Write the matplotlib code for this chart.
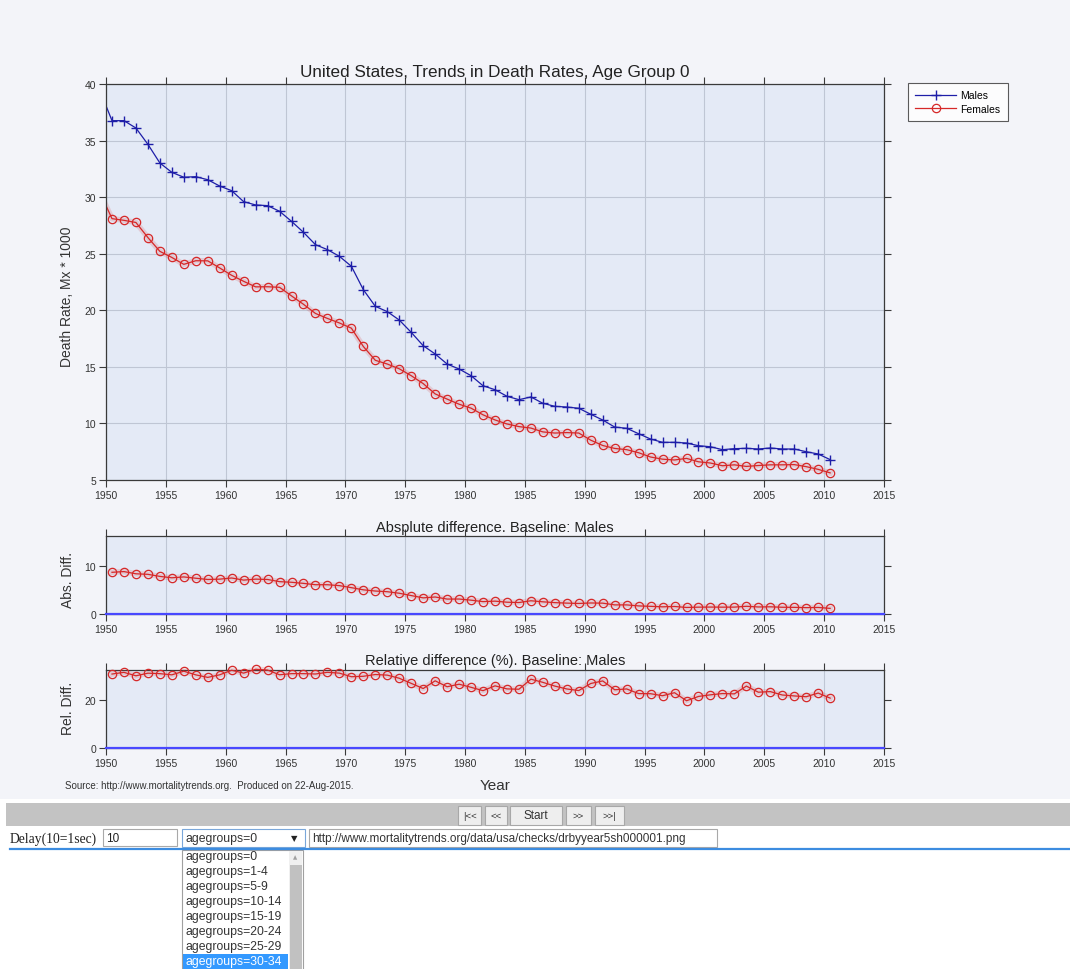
import numpy as np
import matplotlib
matplotlib.use("Agg")
import matplotlib.pyplot as plt
from matplotlib.patches import Rectangle
from matplotlib.lines import Line2D

plt.rcParams['font.family'] = ['Liberation Sans', 'DejaVu Sans']

# ---------------- data ----------------
years = np.arange(1949, 2011)
males = [39.4, 36.76, 36.76, 36.11, 34.67, 33.02, 32.19, 31.76, 31.81, 31.54,
         30.98, 30.57, 29.60, 29.31, 29.25, 28.75, 27.86, 26.89, 25.80, 25.36,
         24.77, 23.89, 21.82, 20.35, 19.88, 19.14, 18.05, 16.87, 16.14, 15.25,
         14.81, 14.22, 13.33, 12.98, 12.40, 12.10, 12.34, 11.78, 11.51, 11.45,
         11.34, 10.81, 10.30, 9.68, 9.57, 9.09, 8.62, 8.33, 8.33, 8.27,
         8.03, 7.94, 7.68, 7.77, 7.80, 7.74, 7.83, 7.74, 7.74, 7.50,
         7.30, 6.80]
females = [30.4, 28.10, 27.95, 27.76, 26.43, 25.21, 24.67, 24.06, 24.38, 24.37,
           23.74, 23.09, 22.56, 22.07, 22.08, 22.03, 21.27, 20.53, 19.72, 19.28,
           18.88, 18.42, 16.80, 15.58, 15.25, 14.83, 14.22, 13.52, 12.61, 12.15,
           11.70, 11.35, 10.76, 10.31, 9.95, 9.72, 9.59, 9.25, 9.15, 9.19,
           9.15, 8.52, 8.05, 7.79, 7.68, 7.41, 7.03, 6.84, 6.77, 6.91,
           6.61, 6.50, 6.26, 6.34, 6.20, 6.28, 6.34, 6.34, 6.36, 6.18,
           5.94, 5.63]
x_ticks = [1950, 1955, 1960, 1965, 1970, 1975, 1980, 1985, 1990, 1995, 2000, 2005, 2010, 2015]
age_options = ["agegroups=0", "agegroups=1-4", "agegroups=5-9", "agegroups=10-14",
               "agegroups=15-19", "agegroups=20-24", "agegroups=25-29", "agegroups=30-34"]
nav_buttons = ["|<<", "<<", "Start", ">>", ">>|"]

m = np.array(males)
f = np.array(females)
xmid = years + 0.5
abs_diff = (m - f)[1:]
rel_diff = ((m - f) / f * 100)[1:]
xd = xmid[1:]

# ---------------- figure ----------------
W, H = 1070, 970
fig = plt.figure(figsize=(W / 100, H / 100), dpi=100)
fig.patch.set_facecolor('white')


def box(x0, y0, x1, y1):
    return [x0 / W, 1 - y1 / H, (x1 - x0) / W, (y1 - y0) / H]


def fx(x):
    return x / W


def fy(y):
    return 1 - y / H


# chart backdrop
fig.add_artist(Rectangle((0, fy(800)), 1, 1 - fy(800), transform=fig.transFigure,
                         facecolor='#F3F4F9', edgecolor='none', zorder=-5))

AX_BG = '#E4EAF6'
SPINE = '#3A3A3A'
GRID = '#BFC6D4'
MALE_C = '#1E1EA8'
FEM_C = '#D62828'
BASE_C = '#4848FF'


def style_axes(ax, xgrid=True, ygrid=True):
    ax.set_facecolor(AX_BG)
    for s in ax.spines.values():
        s.set_color(SPINE)
        s.set_linewidth(0.9)
    ax.tick_params(direction='out', length=5, width=0.8, colors=SPINE,
                   top=True, right=True, labeltop=False, labelright=False,
                   labelsize=7.5, labelcolor='#333333', pad=2)
    ax.set_xlim(1950, 2015)
    ax.set_xticks(x_ticks)
    if xgrid:
        ax.grid(True, axis='x', color=GRID, linewidth=0.8)
    if ygrid:
        ax.grid(True, axis='y', color=GRID, linewidth=0.8)
    ax.set_axisbelow(True)


def female_series(ax, x, y, label=None, **kw):
    # soft pink halo under the red series, then the line with open circles
    ax.plot(x, y, '-', color=FEM_C, lw=4, alpha=0.16, **kw)
    return ax.plot(x, y, '-', color=FEM_C, lw=0.9, marker='o', ms=6, mfc='none',
                   mec=FEM_C, mew=0.9, label=label, **kw)


# main panel
ax1 = fig.add_axes(box(106, 85, 884, 481))
style_axes(ax1)
ax1.set_ylim(5, 40)
ax1.set_yticks([5, 10, 15, 20, 25, 30, 35, 40])
ax1.plot(xmid, m, '-', color=MALE_C, lw=0.9, marker='+', ms=6.5, mew=1.0,
         markevery=slice(1, None), label='Males')
female_series(ax1, xmid, f, label='Females', markevery=slice(1, None))

fig.text(fx(495), fy(77), 'United States, Trends in Death Rates, Age Group 0',
         ha='center', va='baseline', fontsize=12.3, color='#222222')
fig.text(fx(67), fy(297), 'Death Rate, Mx * 1000', rotation=90,
         ha='center', va='center', fontsize=10, color='#333333')

leg = ax1.legend(loc='upper left', bbox_to_anchor=(fx(908), fy(84)),
                 bbox_transform=fig.transFigure, fontsize=7.5, frameon=True,
                 fancybox=False, handlelength=3.9, borderpad=0.7,
                 labelspacing=0.35, handletextpad=0.4, borderaxespad=0)
leg.get_frame().set_edgecolor('#333333')
leg.get_frame().set_linewidth(0.8)
leg.get_frame().set_facecolor('white')

# absolute difference panel
ax2 = fig.add_axes(box(106, 537, 884, 615))
style_axes(ax2, ygrid=False)
ax2.set_ylim(0, 16.2)
ax2.set_yticks([0, 10])
ax2.axhline(0, color=BASE_C, lw=1.6, zorder=3, clip_on=False)
female_series(ax2, xd, abs_diff, clip_on=False, zorder=4)
fig.text(fx(495), fy(532), 'Absplute difference. Baseline: Males',
         ha='center', va='baseline', fontsize=10.5, color='#222222')
fig.text(fx(68), fy(580), 'Abs. Diff.', rotation=90, ha='center', va='center',
         fontsize=10, color='#333333')

# relative difference panel
ax3 = fig.add_axes(box(106, 671, 884, 749))
style_axes(ax3, ygrid=False)
ax3.set_ylim(0, 32.5)
ax3.set_yticks([0, 20])
ax3.axhline(0, color=BASE_C, lw=1.6, zorder=3, clip_on=False)
female_series(ax3, xd, rel_diff, clip_on=False, zorder=4)
fig.text(fx(495), fy(665), 'Relative difference (%). Baseline: Males',
         ha='center', va='baseline', fontsize=10.5, color='#222222')
fig.text(fx(68), fy(708), 'Rel. Diff.', rotation=90, ha='center', va='center',
         fontsize=10, color='#333333')
fig.text(fx(495), fy(786), 'Year', ha='center', va='center', fontsize=11,
         color='#333333')
fig.text(fx(65), fy(786),
         'Source: http://www.mortalitytrends.org.  Produced on 22-Aug-2015.',
         ha='left', va='center', fontsize=7, color='#333333')

# ---------------- page controls ----------------
def rect(x0, y0, x1, y1, fc, ec='none', lw=0.8, z=1):
    fig.add_artist(Rectangle((fx(x0), fy(y1)), (x1 - x0) / W, (y1 - y0) / H,
                             transform=fig.transFigure, facecolor=fc,
                             edgecolor=ec, linewidth=lw, zorder=z))


rect(6, 804, 1070, 827, '#C3C3C3')
btn_x = [(458, 481), (485, 507), (510, 562), (566, 591), (595, 624)]
for (b0, b1), lab in zip(btn_x, nav_buttons):
    rect(b0, 807, b1, 826, '#EEEEEE', '#A8A8A8')
    fig.text(fx((b0 + b1) / 2), fy(816.5), lab, ha='center', va='center',
             fontsize=8.5 if lab == 'Start' else 6.8, color='#333333', zorder=3)

fig.text(fx(10), fy(839), 'Delay(10=1sec)', ha='left', va='center',
         fontsize=9.8, family='Liberation Serif', color='#222222')
rect(103, 830, 177, 847, 'white', '#A9A9A9')
fig.text(fx(106), fy(839), '10', ha='left', va='center', fontsize=8.5,
         color='#222222', zorder=3)
rect(182, 830, 305, 848, 'white', '#7AA7DA')
fig.text(fx(186), fy(839), age_options[0], ha='left', va='center',
         fontsize=8.8, color='#333333', zorder=3)
fig.text(fx(294), fy(839), '\u25BC', ha='center', va='center', fontsize=6,
         family='DejaVu Sans', color='#222222', zorder=3)
rect(309, 830, 717, 848, 'white', '#A9A9A9')
fig.text(fx(312), fy(839),
         'http://www.mortalitytrends.org/data/usa/checks/drbyyear5sh000001.png',
         ha='left', va='center', fontsize=8.5, color='#333333', zorder=3)
fig.add_artist(Line2D([fx(10), 1], [fy(850), fy(850)], transform=fig.transFigure,
                      color='#3C8CE0', lw=1.6))

# open dropdown list
rect(182, 851, 303, 972, 'white', '#A0A0A0')
rect(289, 852, 302, 972, '#F0F0F0', z=2)
rect(289.5, 866, 301.5, 972, '#C1C1C1', z=2)
fig.text(fx(295.5), fy(858), '\u25B2', ha='center', va='center', fontsize=4,
         family='DejaVu Sans', color='#A0A0A0', zorder=3)
rect(183, 955, 288, 972, '#3399FF', z=2)
for i, opt in enumerate(age_options):
    hl = i == len(age_options) - 1
    fig.text(fx(186), fy(857 + 15 * i), opt, ha='left', va='center',
             fontsize=8.8, color='white' if hl else '#333333', zorder=3)

fig.savefig('out.png', dpi=100, facecolor=fig.get_facecolor())
